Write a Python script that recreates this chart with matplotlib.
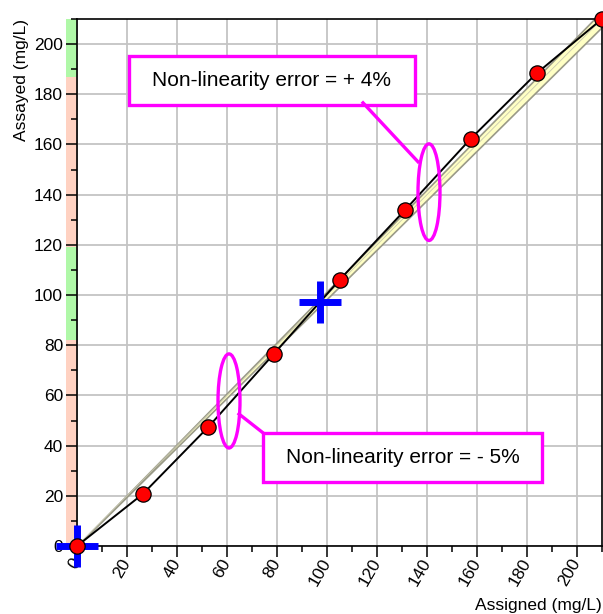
import numpy as np
import matplotlib
matplotlib.use('Agg')
import matplotlib.pyplot as plt
from matplotlib.patches import Ellipse, Rectangle
from matplotlib.transforms import blended_transform_factory

plt.rcParams['font.family'] = ['Liberation Sans', 'DejaVu Sans']

# Measured points (assigned vs assayed, mg/L)
assigned = [0, 26.3, 52.5, 78.8, 105, 131.3, 157.5, 183.8, 210]
assayed = [0, 20.7, 47.4, 76.6, 106, 134, 162.3, 188.3, 210]

# Blue crosses
cross_x = [0, 97.2]
cross_y = [0, 97.4]

# Allowable band around the identity line (percent)
band_x = [0, 210]
allowable_pct = 1.5

# Colored strip along the y axis: (start, end)
green_ranges = [(82, 119), (187, 210)]
pink_ranges = [(0, 82), (119, 187)]

ticks = list(range(0, 201, 20))
minor_ticks = list(range(10, 211, 20))

fig = plt.figure(figsize=(6.03, 6.14), dpi=100)
ax = fig.add_axes([77 / 603, 68 / 614, 525 / 603, 527 / 614])
ax.set_xlim(0, 210)
ax.set_ylim(0, 210)

# grid
ax.set_xticks(ticks)
ax.set_yticks(ticks)
ax.set_xticks(minor_ticks, minor=True)
ax.set_yticks(minor_ticks, minor=True)
ax.grid(True, which='major', color='#c4c4c4', lw=1.3)
ax.set_axisbelow(True)

# allowable band
bx = np.array(band_x, dtype=float)
ax.fill_between(bx, bx * (1 - allowable_pct / 100), bx * (1 + allowable_pct / 100),
                facecolor='#ffffc4', edgecolor='#9a9a88', lw=1.2, zorder=2)
ax.plot(bx, bx, color='#c8c8b0', lw=0.6, zorder=2)

# measured line and points
ax.plot(assigned, assayed, color='black', lw=1.4, zorder=3)
ax.plot(cross_x, cross_y, ls='none', marker='+', ms=30, mew=5, color='#0000ff',
        zorder=5, clip_on=False)
ax.plot(assigned, assayed, ls='none', marker='o', ms=11, mfc='#ff0000', mec='black',
        mew=0.9, zorder=6, clip_on=False)

# colored strip on y axis
trans = blended_transform_factory(ax.transAxes, ax.transData)
for lo, hi in green_ranges:
    ax.add_patch(Rectangle((-11 / 525, lo), 11 / 525, hi - lo, transform=trans,
                           facecolor='#b0f8a8', edgecolor='none', clip_on=False, zorder=0.5))
for lo, hi in pink_ranges:
    ax.add_patch(Rectangle((-11 / 525, lo), 11 / 525, hi - lo, transform=trans,
                           facecolor='#ffd2c2', edgecolor='none', clip_on=False, zorder=0.5))

# ticks
ax.tick_params(which='major', direction='out', length=8, width=1.1, labelsize=12.5, pad=2)
ax.tick_params(which='minor', direction='out', length=4, width=1.1)
for lab in ax.get_xticklabels():
    lab.set_rotation(60)
    lab.set_ha('right')
    lab.set_va('center')
    lab.set_rotation_mode('anchor')
for sp in ax.spines.values():
    sp.set_linewidth(1.2)

ax.set_xlabel('Assigned (mg/L)', fontsize=12.5, loc='right', labelpad=7)
ax.set_ylabel('Assayed (mg/L)', fontsize=12.5, loc='top', labelpad=4)

# annotations
mag = '#ff00ff'
ax.add_patch(Rectangle((20.6, 175.6), 114.6, 19.8, facecolor='white', edgecolor=mag,
                       lw=2.4, zorder=7))
ax.text(77.9, 185.5, 'Non-linearity error = + 4%', ha='center', va='center',
        fontsize=15, zorder=8)
ax.plot([114.4, 136.4], [176.6, 153.1], color=mag, lw=2.4, zorder=7)
ax.add_patch(Ellipse((140.8, 141), 8.8, 38.5, facecolor='none', edgecolor=mag,
                     lw=2.4, zorder=7))

ax.add_patch(Rectangle((74.4, 25.5), 111.6, 19.5, facecolor='white', edgecolor=mag,
                       lw=2.4, zorder=7))
ax.text(130.2, 35.2, 'Non-linearity error = - 5%', ha='center', va='center',
        fontsize=15, zorder=8)
ax.plot([64.8, 74.4], [52.6, 45.1], color=mag, lw=2.4, zorder=7)
ax.add_patch(Ellipse((60.8, 57.8), 8.8, 37.5, facecolor='none', edgecolor=mag,
                     lw=2.4, zorder=7))

fig.savefig('out.png', dpi=100)
